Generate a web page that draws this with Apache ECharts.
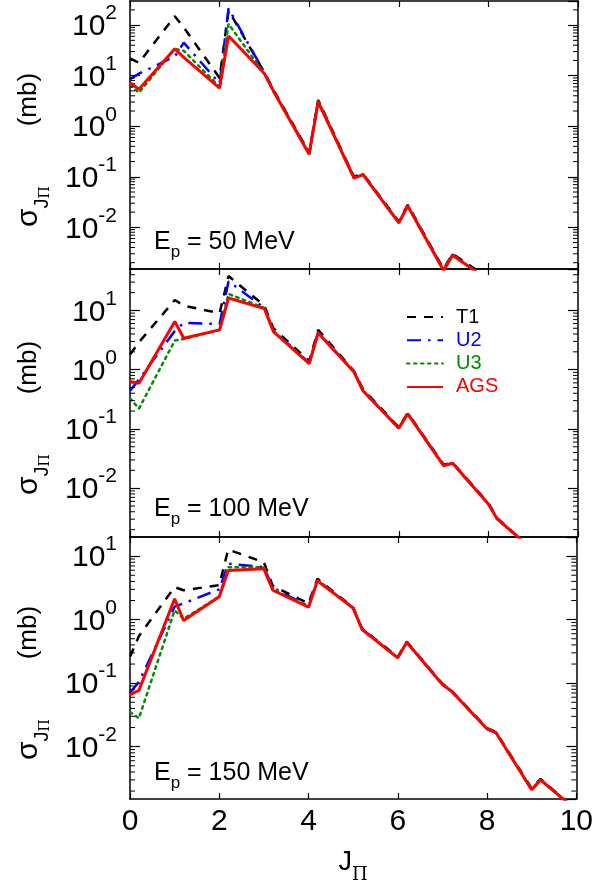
<!DOCTYPE html>
<html><head><meta charset="utf-8">
<script src="https://cdn.jsdelivr.net/npm/echarts@6/dist/echarts.min.js"></script>
<style>html,body{margin:0;padding:0;background:#fff}#c{width:596px;height:892px}</style>
</head><body><div id="c"></div>
<script>
// ---- data ----
const J = [0, 0.2, 1, 1.2, 2, 2.2, 3, 3.2, 4, 4.2, 5, 5.2, 6, 6.2, 7, 7.2, 8, 8.2, 9, 9.2, 10];

const T1_50  = [22, 18, 150, 90, 9, 195, 11.5, 5.3, 0.30, 3.3, 0.10, 0.115, 0.013, 0.028, 0.0015, 0.003, 0.001, null, null, null, null];
const U2_50  = [8.5, 11, 24, 45, 7, 214, 11.5, 5.1, 0.29, 3.2, 0.097, 0.112, 0.0125, 0.027, 0.0014, 0.0029, 0.0009, null, null, null, null];
const U3_50  = [6.5, 4.6, 34, 31, 6, 105, 11, 5.0, 0.28, 3.1, 0.095, 0.11, 0.0124, 0.0268, 0.0014, 0.0028, 0.0009, null, null, null, null];
const AGS_50 = [7.3, 5.4, 34, 23, 5.7, 61, 11, 5.0, 0.28, 3.05, 0.094, 0.11, 0.0123, 0.0265, 0.0014, 0.0028, 0.0009, null, null, null, null];

const T1_100  = [1.8, 2.9, 15, 12, 9, 38, 12, 5.0, 1.4, 4.7, 0.95, 0.47, 0.107, 0.186, 0.025, 0.027, 0.0056, 0.0031, 0.0009, null, null];
const U2_100  = [0.44, 0.68, 4.5, 6.2, 5.9, 31, 11, 4.6, 1.3, 4.3, 0.92, 0.45, 0.104, 0.18, 0.024, 0.0265, 0.0054, 0.003, 0.0009, null, null];
const U3_100  = [0.33, 0.22, 3.1, 3.3, 4.7, 19, 11, 4.5, 1.28, 4.2, 0.91, 0.44, 0.103, 0.18, 0.024, 0.0264, 0.0054, 0.003, 0.0009, null, null];
const AGS_100 = [0.63, 0.59, 6.5, 3.4, 4.7, 16.2, 10.7, 4.4, 1.26, 4.15, 0.91, 0.44, 0.103, 0.18, 0.024, 0.0264, 0.0054, 0.0030, 0.0009, null, null];

const T1_150  = [0.26, 0.55, 3.25, 2.9, 3.5, 12.7, 8, 3.4, 1.8, 4.4, 1.55, 0.72, 0.26, 0.45, 0.098, 0.077, 0.0195, 0.017, 0.0022, 0.0031, 0.001];
const U2_150  = [0.07, 0.105, 1.6, 1.8, 3.0, 7.6, 6.7, 3.2, 1.62, 4.2, 1.53, 0.71, 0.25, 0.44, 0.096, 0.075, 0.019, 0.0166, 0.0021, 0.003, 0.001];
const U3_150  = [0.035, 0.028, 1.4, 1.03, 2.3, 6.7, 6.7, 3.0, 1.6, 4.15, 1.52, 0.70, 0.25, 0.44, 0.095, 0.075, 0.019, 0.0166, 0.0021, 0.003, 0.001];
const AGS_150 = [0.066, 0.077, 2.13, 0.97, 2.3, 5.96, 6.3, 2.9, 1.57, 4.1, 1.52, 0.70, 0.25, 0.44, 0.095, 0.075, 0.019, 0.0166, 0.0021, 0.0030, 0.001];

const energies = ['50', '100', '150'];
const yMaxs = [300, 50, 20];
const yMin = 0.0015;
const names = ['T1', 'U2', 'U3', 'AGS'];
const panels = [
  [T1_50, U2_50, U3_50, AGS_50],
  [T1_100, U2_100, U3_100, AGS_100],
  [T1_150, U2_150, U3_150, AGS_150]
];

// ---- layout / style ----
const FONT = "'Liberation Sans', Arial, Helvetica, sans-serif";
const gridBoxes = [
  {top: 1, height: 268},
  {top: 269, height: 268},
  {top: 537, height: 262}
];
const LEFT = 130, RIGHT = 18;
const styles = {
  T1:  {color: '#000000', width: 2.5, type: [9, 8]},
  U2:  {color: '#0000ff', width: 2.5, type: [14, 7, 2.5, 7]},
  U3:  {color: '#008c00', width: 2.5, type: [2.5, 4.5]},
  AGS: {color: '#ff0000', width: 3, type: 'solid'}
};

const grids = [], xAxes = [], yAxes = [], series = [], graphics = [];

function minorValues(max) {
  const out = [];
  for (let e = -3; e <= 3; e++) {
    for (let m = 2; m <= 9; m++) {
      const v = m * Math.pow(10, e);
      if (v > yMin && v < max) out.push([0, v]);
    }
  }
  return out;
}

gridBoxes.forEach((g, p) => {
  grids.push({left: LEFT, right: RIGHT, top: g.top, height: g.height, containLabel: false});
  const isBottom = p === 2;
  const axLine = {show: true, onZero: false, lineStyle: {color: '#000', width: 1.5}};
  xAxes.push({
    type: 'value', gridIndex: p, min: 0, max: 10, interval: 2, position: 'bottom',
    axisLine: axLine, axisTick: {inside: true, length: 6, lineStyle: {color: '#000', width: 1.2}},
    splitLine: {show: false},
    axisLabel: {show: isBottom, margin: 8, fontSize: 30, color: '#000', fontFamily: FONT},
    name: isBottom ? '{a|J}{p|Π}' : '',
    nameLocation: 'middle', nameGap: 50,
    nameTextStyle: {
      color: '#000', fontFamily: FONT,
      rich: {
        a: {fontSize: 27, fontFamily: FONT, color: '#000', verticalAlign: 'top', lineHeight: 27},
        p: {fontSize: 18, fontFamily: 'DejaVu Serif, serif', color: '#000', verticalAlign: 'bottom', lineHeight: 35}
      }
    }
  });
  xAxes.push({
    type: 'value', gridIndex: p, min: 0, max: 10, interval: 2, position: 'top',
    axisLine: axLine, axisTick: {inside: true, length: 6, lineStyle: {color: '#000', width: 1.2}},
    splitLine: {show: false}, axisLabel: {show: false}
  });
  yAxes.push({
    type: 'log', logBase: 10, gridIndex: p, min: yMin, max: yMaxs[p], position: 'left',
    axisLine: axLine, axisTick: {inside: true, length: 10, lineStyle: {color: '#000', width: 1.2}},
    splitLine: {show: false}, minorTick: {show: false},
    axisLabel: {
      show: true, margin: 13, showMinLabel: false, showMaxLabel: false,
      formatter: v => '{b|10}{s|' + Math.round(Math.log10(v)) + '}',
      rich: {
        b: {fontSize: 30, fontFamily: FONT, color: '#000', lineHeight: 44, padding: [4, 0, 0, 0]},
        s: {fontSize: 21, fontFamily: FONT, color: '#000', lineHeight: 44, verticalAlign: 'top', padding: [0, 0, 0, 0]}
      }
    },
    name: '{a|σ}{j|J}{p|Π}{m|(mb)}',
    nameLocation: 'middle', nameRotate: 90, nameGap: 78,
    nameTextStyle: {
      color: '#000', fontFamily: FONT,
      rich: {
        a: {fontSize: 30, fontFamily: FONT, color: '#000', verticalAlign: 'top', lineHeight: 30},
        j: {fontSize: 20, fontFamily: FONT, color: '#000', verticalAlign: 'bottom', lineHeight: 38},
        p: {fontSize: 14, fontFamily: 'DejaVu Serif, serif', color: '#000', verticalAlign: 'bottom', lineHeight: 38},
        m: {fontSize: 26, fontFamily: FONT, color: '#000', verticalAlign: 'top', lineHeight: 30, padding: [2, 30, 0, 60]}
      }
    }
  });
  yAxes.push({
    type: 'log', logBase: 10, gridIndex: p, min: yMin, max: yMaxs[p], position: 'right',
    axisLine: axLine, axisTick: {inside: true, length: 10, lineStyle: {color: '#000', width: 1.2}},
    splitLine: {show: false}, axisLabel: {show: false}
  });

  // minor log ticks on both vertical edges
  series.push({
    type: 'custom', xAxisIndex: 2 * p, yAxisIndex: 2 * p, silent: true, clip: false, z: 5,
    data: minorValues(yMaxs[p]), encode: {x: 0, y: 1},
    renderItem: (params, api) => {
      const v = api.value(1);
      const a = api.coord([0, v]);
      const b = api.coord([10, v]);
      return {type: 'group', children: [
        {type: 'line', shape: {x1: a[0], y1: a[1], x2: a[0] + 5, y2: a[1]}, style: {stroke: '#000', lineWidth: 1}},
        {type: 'line', shape: {x1: b[0] - 5, y1: b[1], x2: b[0], y2: b[1]}, style: {stroke: '#000', lineWidth: 1}}
      ]};
    }
  });

  panels[p].forEach((arr, k) => {
    const nm = names[k];
    const st = styles[nm];
    series.push({
      type: 'line', name: nm, xAxisIndex: 2 * p, yAxisIndex: 2 * p,
      data: J.map((x, i) => [x, arr[i]]),
      symbol: 'none', showSymbol: false, smooth: false, connectNulls: false, clip: true,
      color: st.color, z: 2 + k,
      lineStyle: {color: st.color, width: st.width, type: st.type, cap: k === 2 ? 'round' : 'butt'}
    });
  });

  // energy label
  graphics.push({
    type: 'text', x: 154, y: [245, 512, 776][p],
    style: {
      text: '{a|E}{s|p}{a| = ' + energies[p] + ' MeV}',
      verticalAlign: 'middle', align: 'left',
      rich: {
        a: {fontSize: 25, fontFamily: FONT, fill: '#000', color: '#000', verticalAlign: 'top', lineHeight: 25},
        s: {fontSize: 17, fontFamily: FONT, fill: '#000', color: '#000', verticalAlign: 'bottom', lineHeight: 31}
      }
    }
  });
});

const chart = echarts.init(document.getElementById('c'), null, {renderer: 'canvas'});
chart.setOption({
  animation: false,
  backgroundColor: '#fff',
  grid: grids,
  xAxis: xAxes,
  yAxis: yAxes,
  legend: {
    left: 406, top: 307, padding: 0, orient: 'vertical', itemWidth: 36, itemHeight: 14, itemGap: 3.3,
    itemStyle: {color: 'rgba(0,0,0,0)', borderColor: 'rgba(0,0,0,0)', borderWidth: 0, opacity: 0},
    textStyle: {fontSize: 20, lineHeight: 20, fontFamily: FONT, padding: [0, 0, 0, 8]},
    data: [
      {name: 'T1', textStyle: {color: '#000000'}},
      {name: 'U2', textStyle: {color: '#0000ff'}},
      {name: 'U3', textStyle: {color: '#008c00'}},
      {name: 'AGS', textStyle: {color: '#ff0000'}}
    ]
  },
  graphic: graphics,
  series: series
});
</script>
</body></html>
